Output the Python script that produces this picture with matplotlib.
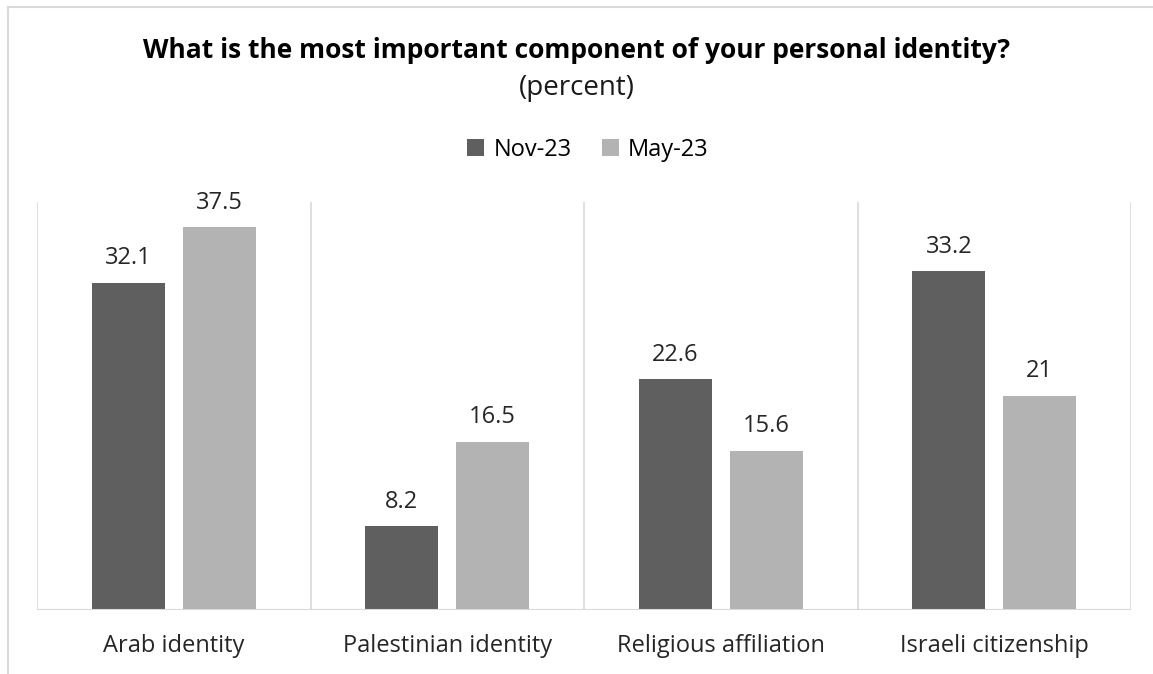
import numpy as np
import matplotlib.pyplot as plt
from matplotlib.lines import Line2D

# data
categories = ['Arab identity', 'Palestinian identity', 'Religious affiliation', 'Israeli citizenship']
nov23 = [32.1, 8.2, 22.6, 33.2]
may23 = [37.5, 16.5, 15.6, 21]
series_names = ['Nov-23', 'May-23']

DARK = '#5f5f5f'
LIGHT = '#b3b3b3'
GRID = '#d9d9d9'

plt.rcParams['font.family'] = ['Open Sans', 'DejaVu Sans']

fig = plt.figure(figsize=(11.53, 6.74), dpi=100)

# chart area border (cropped on right/bottom in the original)
fig.add_artist(Line2D([8 / 1153, 8 / 1153], [0, 1 - 7 / 674], transform=fig.transFigure,
                      color=GRID, lw=1.5))
fig.add_artist(Line2D([8 / 1153, 1], [1 - 7 / 674, 1 - 7 / 674], transform=fig.transFigure,
                      color=GRID, lw=1.5))

ax = fig.add_axes([37 / 1153, 64 / 674, (1131 - 37) / 1153, (610 - 202) / 674])

x = np.arange(len(categories))
w = 0.267
off = 0.166
b1 = ax.bar(x - off, nov23, w, color=DARK, label=series_names[0])
b2 = ax.bar(x + off, may23, w, color=LIGHT, label=series_names[1])

for bars, vals in ((b1, nov23), (b2, may23)):
    for b, v in zip(bars, vals):
        ax.annotate(f'{v:g}', (b.get_x() + b.get_width() / 2, v), xytext=(0, 13.5),
                    textcoords='offset points', ha='center', va='baseline',
                    fontsize=17, color='#262626')

ax.set_xlim(-0.5, len(categories) - 0.5)
ax.set_ylim(0, 40)

# category separators
for sep in np.arange(-0.5, len(categories), 1):
    ax.axvline(sep, color=GRID, lw=1.2, zorder=0)

for s in ax.spines.values():
    s.set_visible(False)
ax.axhline(0, color=GRID, lw=1.5, zorder=3)

ax.set_yticks([])
ax.set_xticks(x)
ax.set_xticklabels(categories, fontsize=17, color='#262626')
ax.tick_params(axis='x', length=0, pad=17)

fig.text(0.5, 1 - 50 / 674, 'What is the most important component of your personal identity?',
         ha='center', va='center', fontsize=19, fontweight='bold', color='black')
fig.text(0.5, 1 - 88 / 674, '(percent)', ha='center', va='center', fontsize=20, color='#1a1a1a')

fig.legend(loc='center', bbox_to_anchor=(0.51, 1 - 150 / 674), ncol=2, frameon=False,
           fontsize=17, handlelength=0.7, handleheight=0.7, handletextpad=0.4,
           columnspacing=1.3)

fig.savefig('out.png', dpi=100)
